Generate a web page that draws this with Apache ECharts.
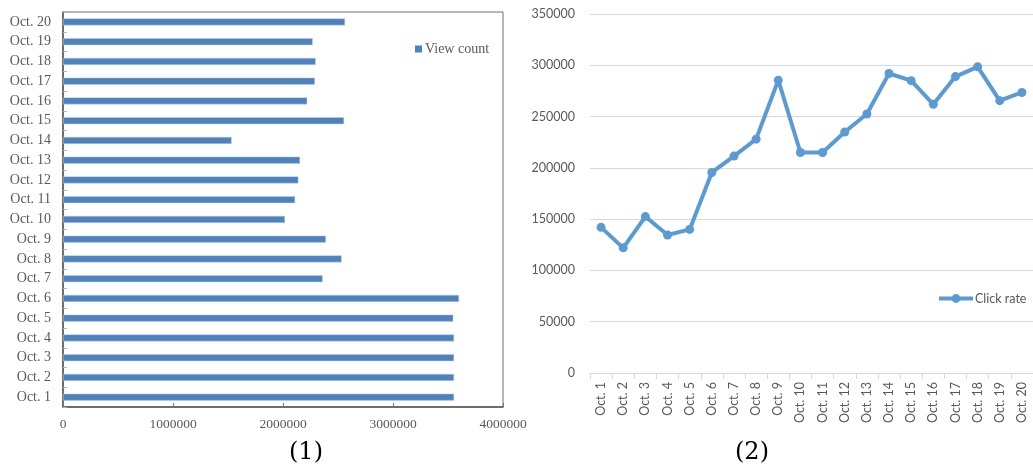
<!DOCTYPE html>
<html>
<head>
<meta charset="utf-8">
<script src="https://cdn.jsdelivr.net/npm/echarts@6/dist/echarts.min.js"></script>
<style>
  html, body { margin: 0; padding: 0; background: #fff; }
  #chart { width: 1033px; height: 470px; }
</style>
</head>
<body>
<div id="chart"></div>
<script>
// days, bottom to top on the bar chart, left to right on the line chart
var days = ['Oct. 1','Oct. 2','Oct. 3','Oct. 4','Oct. 5','Oct. 6','Oct. 7','Oct. 8','Oct. 9','Oct. 10',
            'Oct. 11','Oct. 12','Oct. 13','Oct. 14','Oct. 15','Oct. 16','Oct. 17','Oct. 18','Oct. 19','Oct. 20'];
var viewCount = [3555000, 3555000, 3555000, 3555000, 3548000, 3600000, 2360000, 2533000, 2390000, 2018000,
                 2110000, 2140000, 2155000, 1533000, 2555000, 2220000, 2290000, 2297000, 2270000, 2564000];
var clickRate = [142000, 122000, 152500, 134500, 140000, 195500, 211500, 228000, 285500, 215000,
                 215000, 235000, 252500, 292000, 285000, 262000, 289000, 298500, 265500, 273500];

var serif = '"Liberation Serif", "Times New Roman", serif',
    sans = 'Lato, "Open Sans", sans-serif',
    grey = '#595959';

// plain numbers, no thousands separator
function plain(v){
    return String(v);
}

var chart = echarts.init(document.getElementById('chart'));

var option = {
    animation: false,
    backgroundColor: '#fff',
    title: [
        { text: '(1)', left: 301, top: 436, textAlign: 'center',
          textStyle: { fontFamily: '"DejaVu Serif", serif', fontWeight: 'normal', fontSize: 24, color: '#000' } },
        { text: '(2)', left: 747, top: 436, textAlign: 'center',
          textStyle: { fontFamily: '"DejaVu Serif", serif', fontWeight: 'normal', fontSize: 24, color: '#000' } }
    ],
    legend: [
        { data: ['View count'], left: 410, top: 37, icon: 'rect', itemWidth: 7, itemHeight: 7, itemGap: 4,
          itemStyle: { borderWidth: 0 },
          textStyle: { fontFamily: serif, fontSize: 14, color: grey, padding: [0, 0, 0, -2] } },
        { data: ['Click rate'], left: 932, top: 287, itemWidth: 34, itemHeight: 11,
          lineStyle: { width: 4 },
          textStyle: { fontFamily: sans, fontSize: 12.5, color: grey, padding: [0, 0, 0, -3] } }
    ],
    grid: [
        { left: 63, top: 12, width: 440, height: 395, show: true, borderColor: '#6e6e6e', borderWidth: 1 },
        { left: 590, top: 14, width: 448, height: 359 }
    ],
    xAxis: [
        {
            gridIndex: 0, type: 'value', min: 0, max: 4000000, interval: 1000000,
            axisLine: { show: true, lineStyle: { color: '#555', width: 1.5 } },
            axisTick: { show: true, inside: true, length: 4, lineStyle: { color: '#777' } },
            splitLine: { show: false },
            axisLabel: { fontFamily: serif, fontSize: 13.5, color: grey, margin: 10, formatter: plain }
        },
        {
            gridIndex: 1, type: 'category', data: days, boundaryGap: true,
            axisLine: { lineStyle: { color: '#d9d9d9' } },
            axisTick: { show: true, alignWithLabel: false, length: 6, lineStyle: { color: '#d9d9d9' } },
            axisLabel: { rotate: 90, interval: 0, fontFamily: sans, fontSize: 12.5, color: grey, margin: 9 }
        }
    ],
    yAxis: [
        {
            gridIndex: 0, type: 'category', data: days,
            axisLine: { show: true, lineStyle: { color: '#555', width: 1.5 } },
            axisTick: { show: true, inside: true, length: 4, lineStyle: { color: '#9db8dc' } },
            axisLabel: { fontFamily: serif, fontSize: 14, color: grey, margin: 12 }
        },
        {
            gridIndex: 1, type: 'value', min: 0, max: 350000, interval: 50000,
            axisLine: { show: false },
            axisTick: { show: false },
            splitLine: { lineStyle: { color: '#d9d9d9', width: 1 } },
            axisLabel: { fontFamily: sans, fontSize: 12.5, color: grey, margin: 15, formatter: plain }
        }
    ],
    series: [
        {
            name: 'View count', type: 'bar', xAxisIndex: 0, yAxisIndex: 0,
            data: viewCount, barWidth: 7,
            itemStyle: { color: '#4f81bd', borderColor: '#bcd0ea', borderWidth: 0.5 }
        },
        {
            name: 'Click rate', type: 'line', xAxisIndex: 1, yAxisIndex: 1,
            data: clickRate, symbol: 'circle', symbolSize: 9,
            lineStyle: { color: '#5b9bd5', width: 4 },
            itemStyle: { color: '#5b9bd5' }
        }
    ]
};

chart.setOption(option);
</script>
</body>
</html>
